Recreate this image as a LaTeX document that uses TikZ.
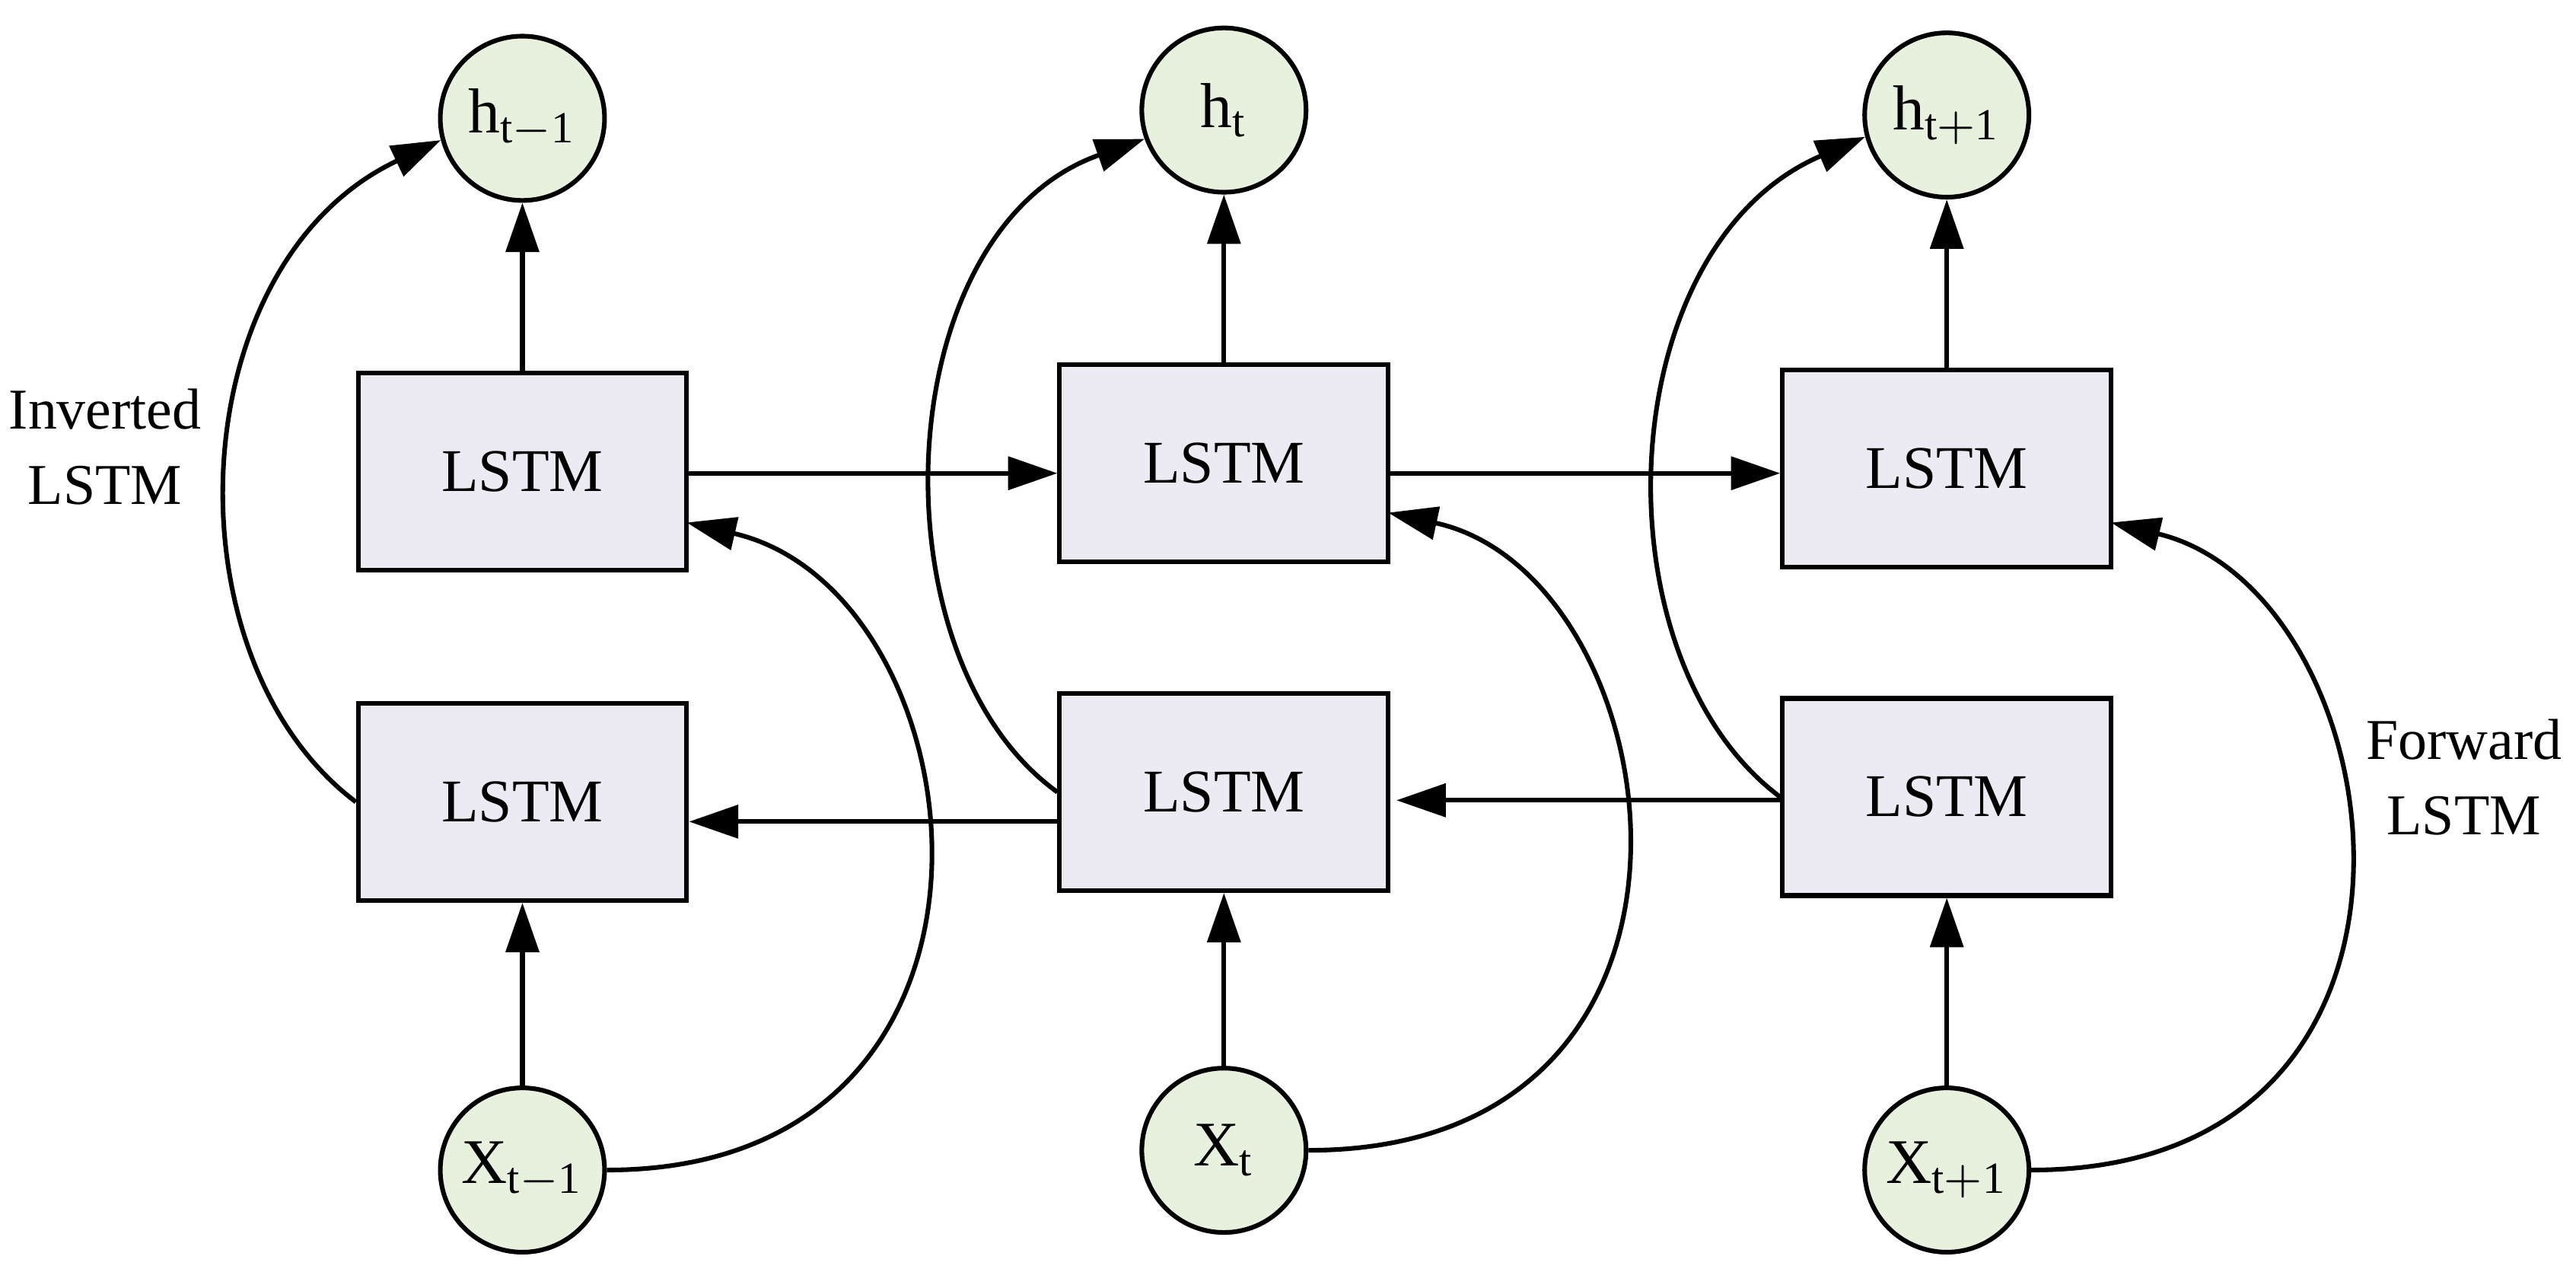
\documentclass[tikz,border=0pt]{standalone}
\usepackage{fontspec}
\setmainfont{Liberation Serif}
\usetikzlibrary{arrows.meta}
\definecolor{cfill}{HTML}{E8F0DE}
\definecolor{bfill}{HTML}{ECEAF3}
\begin{document}
\begin{tikzpicture}[x=0.1mm,y=-0.1mm,
  circ/.style={circle,draw,line width=0.8pt,fill=cfill,minimum size=10mm,inner sep=0pt,font=\fontsize{11}{13}\selectfont},
  box/.style={draw,line width=0.8pt,fill=bfill,minimum width=20mm,minimum height=12mm,inner sep=0pt,font=\fontsize{10.5}{12.5}\selectfont},
  arr/.style={line width=0.8pt,-{Triangle[length=3mm,width=2mm]}},
  lab/.style={align=center,inner sep=0pt,font=\fontsize{10}{13}\selectfont}]
\useasboundingbox (0,0) rectangle (1568,774);
\node[circ] (hA) at (318,72) {h$_{\mathrm{t-1}}$};
\node[circ] (hB) at (745,67) {h$_{\mathrm{t}}$};
\node[circ] (hC) at (1185,70) {h$_{\mathrm{t+1}}$};
\node[box] (uA) at (318,287) {LSTM};
\node[box] (uB) at (745,282) {LSTM};
\node[box] (uC) at (1185,285) {LSTM};
\node[box] (lA) at (318,488) {LSTM};
\node[box] (lB) at (745,482) {LSTM};
\node[box] (lC) at (1185,485) {LSTM};
\node[circ] (xA) at (318,712) {X$_{\mathrm{t-1}}$};
\node[circ] (xB) at (745,700) {X$_{\mathrm{t}}$};
\node[circ] (xC) at (1185,712) {X$_{\mathrm{t+1}}$};
\node[lab] (inv) at (64,272) {Inverted\\LSTM};
\node[lab,anchor=east] (fwd) at (1560,473) {Forward\\LSTM};
% vertical
\draw[arr] (uA) -- (hA); \draw[arr] (uB) -- (hB); \draw[arr] (uC) -- (hC);
\draw[arr] (xA) -- (lA); \draw[arr] (xB) -- (lB); \draw[arr] (xC) -- (lC);
% horizontal
\coordinate (a1) at (uA.east |- 0,288);
\draw[arr] (a1) -- (uB.west |- a1);
\draw[arr] (uB.east |- a1) -- (uC.west |- a1);
\coordinate (b1) at (lB.west |- 0,500);
\draw[arr] (b1) -- (lA.east |- b1);
\coordinate (b2) at (lC.west |- 0,487);
\coordinate (b3) at (850,487);
\draw[arr] (b2) -- (b3);
% curves up
\draw[arr] (lA.west) .. controls (100,400) and (110,160) .. (hA.195);
\draw[arr] (lB.west) .. controls (530,400) and (540,140) .. (hB.200);
\draw[arr] (lC.west) .. controls (970,400) and (980,150) .. (hC.195);
% curves from X
\coordinate (cA) at (418,318);
\coordinate (cB) at (845,312);
\coordinate (cC) at (1285,318);
\draw[arr] (xA.east) .. controls (640,712) and (600,360) .. (cA);
\draw[arr] (xB.east) .. controls (1070,700) and (1020,350) .. (cB);
\draw[arr] (xC.east) .. controls (1510,712) and (1460,360) .. (cC);
\end{tikzpicture}
\end{document}
